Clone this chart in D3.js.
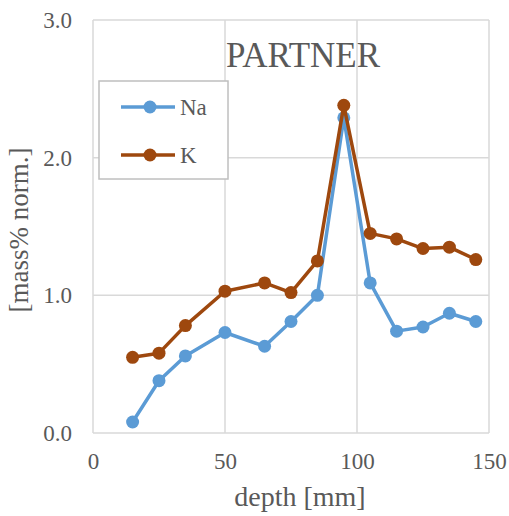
<!DOCTYPE html>
<meta charset="utf-8">
<script src="https://cdn.jsdelivr.net/npm/d3@7"></script>
<style>
  body { margin: 0; background: #fff; }
  text { font-family: "Liberation Serif", "Times New Roman", serif; fill: #595959; }
</style>
<div id="chart"></div>
<script>
// data
var depth = [15, 25, 35, 50, 65, 75, 85, 95, 105, 115, 125, 135, 145]
var na = [0.08, 0.38, 0.56, 0.73, 0.63, 0.81, 1.00, 2.29, 1.09, 0.74, 0.77, 0.87, 0.81]
var k = [0.55, 0.58, 0.78, 1.03, 1.09, 1.02, 1.25, 2.38, 1.45, 1.41, 1.34, 1.35, 1.26]
var xTicks = [0, 50, 100, 150]
var yTicks = [0, 1, 2, 3]
var series = [
  {name: "Na", values: na, color: "#5B9BD5"},
  {name: "K", values: k, color: "#9E480E"}
]

var margin = {top: 20, right: 20, bottom: 83, left: 93},
    width = 509 - margin.left - margin.right,
    height = 516 - margin.top - margin.bottom

var svg = d3.select("#chart").append("svg")
    .attr("width", 509).attr("height", 516)
  .append("g")
    .attr("transform", "translate(" + margin.left + "," + margin.top + ")")

var x = d3.scaleLinear().domain([0, 150]).range([0, 396])
var y = d3.scaleLinear().domain([0, 3]).range([413, 0])

// grid
svg.append("g").selectAll("line.v").data(xTicks).enter().append("line")
  .attr("x1", d => x(d)).attr("x2", d => x(d))
  .attr("y1", y(0)).attr("y2", y(3))
  .attr("stroke", "#d9d9d9").attr("stroke-width", 1.5)
svg.append("g").selectAll("line.h").data(yTicks).enter().append("line")
  .attr("x1", x(0)).attr("x2", x(150))
  .attr("y1", d => y(d)).attr("y2", d => y(d))
  .attr("stroke", "#d9d9d9").attr("stroke-width", 1.5)

// axes labels (no axis lines, Excel style)
var xAxis = svg.append("g")
  .attr("transform", "translate(0," + y(0) + ")")
  .call(d3.axisBottom(x).tickValues(xTicks).tickSize(0).tickPadding(20))
xAxis.select(".domain").remove()
xAxis.selectAll("text").style("font-size", "23px").attr("fill", "#595959")
  .style("font-family", "Liberation Serif")

var yAxis = svg.append("g")
  .call(d3.axisLeft(y).tickValues(yTicks).tickSize(0).tickPadding(21).tickFormat(d3.format(".1f")))
yAxis.select(".domain").remove()
yAxis.selectAll("text").style("font-size", "23px").attr("fill", "#595959")
  .style("font-family", "Liberation Serif")

// lines + markers
var line = d3.line()
  .x((d, i) => x(depth[i]))
  .y(d => y(d))

series.forEach(function(s) {
  svg.append("path")
    .datum(s.values)
    .attr("d", line)
    .attr("fill", "none")
    .attr("stroke", s.color)
    .attr("stroke-width", 3.5)
    .attr("stroke-linejoin", "round")
  svg.append("g").selectAll("circle")
    .data(s.values).enter().append("circle")
      .attr("cx", (d, i) => x(depth[i]))
      .attr("cy", d => y(d))
      .attr("r", 6.5)
      .attr("fill", s.color)
})

// title
svg.append("text")
  .attr("x", 303 - margin.left).attr("y", 67 - margin.top)
  .attr("text-anchor", "middle")
  .style("font-size", "35px")
  .text("PARTNER")

// legend
var lg = svg.append("g").attr("transform", "translate(" + (99 - margin.left) + "," + (81 - margin.top) + ")")
lg.append("rect").attr("width", 129).attr("height", 98)
  .attr("fill", "#fff").attr("stroke", "#bfbfbf").attr("stroke-width", 1.5)
series.forEach(function(s, i) {
  var yy = 26 + i * 48
  lg.append("line").attr("x1", 22).attr("x2", 76).attr("y1", yy).attr("y2", yy)
    .attr("stroke", s.color).attr("stroke-width", 3.5)
  lg.append("circle").attr("cx", 51).attr("cy", yy).attr("r", 6.5).attr("fill", s.color)
  lg.append("text").attr("x", 81).attr("y", yy + 8)
    .style("font-size", "23px").text(s.name)
})

// axis titles
svg.append("text")
  .attr("x", 300 - margin.left).attr("y", 506 - margin.top)
  .attr("text-anchor", "middle")
  .style("font-size", "28px")
  .text("depth [mm]")

svg.append("text")
  .attr("transform", "rotate(-90)")
  .attr("x", -(230 - margin.top)).attr("y", 28 - margin.left)
  .attr("text-anchor", "middle")
  .style("font-size", "27px")
  .text("[mass% norm.]")
</script>
